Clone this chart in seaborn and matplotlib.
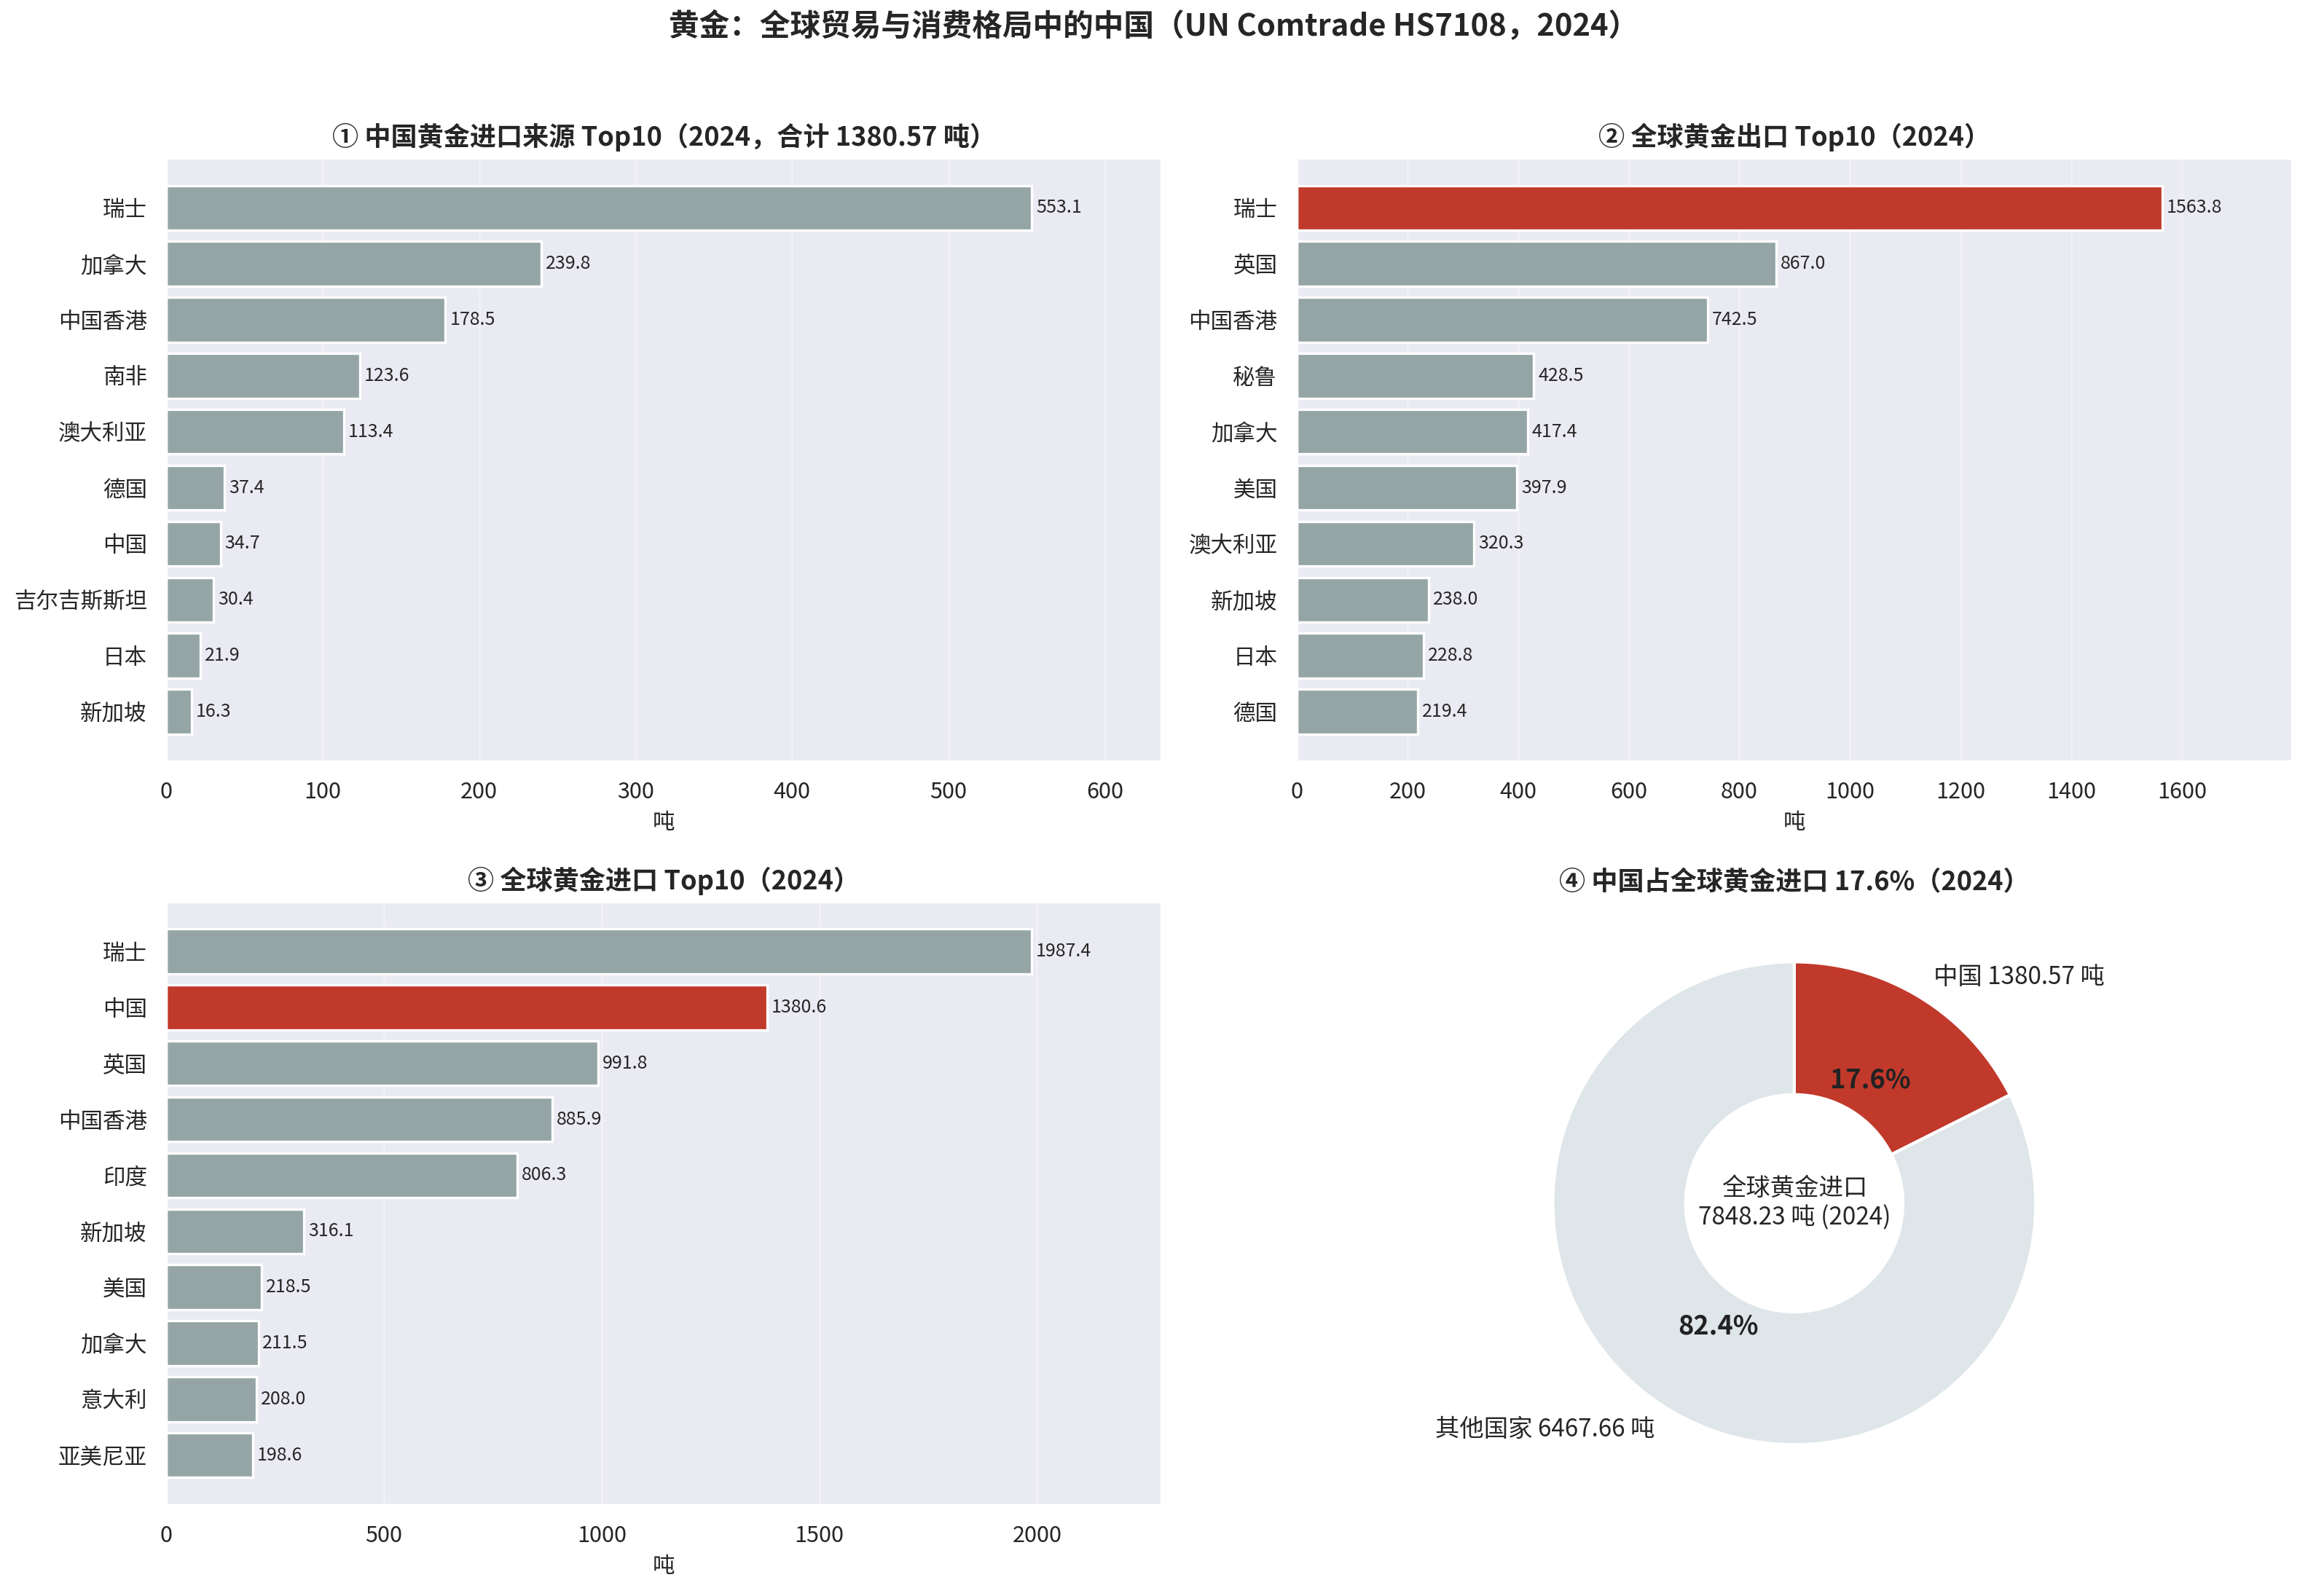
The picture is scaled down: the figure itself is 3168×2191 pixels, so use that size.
import matplotlib
matplotlib.use("Agg")
import matplotlib.pyplot as plt
import seaborn as sns
import pandas as pd

sns.set_theme(style="darkgrid")
plt.rcParams['font.family'] = ['Noto Sans CJK SC', 'DejaVu Sans']
plt.rcParams['axes.unicode_minus'] = False

GREY = '#95a5a6'
RED = '#c0392b'
LIGHT = '#dfe6e9'

# ① 中国黄金进口来源
cn_src_names = ["瑞士", "加拿大", "中国香港", "南非", "澳大利亚", "德国", "中国", "吉尔吉斯斯坦", "日本", "新加坡"]
cn_src_vals = [553.1, 239.8, 178.5, 123.6, 113.4, 37.4, 34.7, 30.4, 21.9, 16.3]
cn_total = 1380.57

# ② 全球黄金出口
exp_names = ["瑞士", "英国", "中国香港", "秘鲁", "加拿大", "美国", "澳大利亚", "新加坡", "日本", "德国"]
exp_vals = [1563.8, 867.0, 742.5, 428.5, 417.4, 397.9, 320.3, 238.0, 228.8, 219.4]
exp_highlight = "瑞士"

# ③ 全球黄金进口
imp_names = ["瑞士", "中国", "英国", "中国香港", "印度", "新加坡", "美国", "加拿大", "意大利", "亚美尼亚"]
imp_vals = [1987.4, 1380.6, 991.8, 885.9, 806.3, 316.1, 218.5, 211.5, 208.0, 198.6]
imp_highlight = "中国"

# ④ 份额
world_import = 7848.23
share_labels = ["中国", "其他国家"]
share_vals = [1380.57, 6467.66]


def bar_panel(ax, names, vals, title, highlight=None):
    df = pd.DataFrame({'name': names, 'val': vals})
    colors = [RED if n == highlight else GREY for n in names]
    sns.barplot(data=df, x='val', y='name', hue='name', palette=colors, saturation=1,
                legend=False, ax=ax, edgecolor='white', linewidth=1.2, width=0.8)
    vmax = max(vals)
    for i, v in enumerate(vals):
        ax.text(v + vmax * 0.005, i, f"{v:.1f}", va='center', ha='left', fontsize=9)
    ax.set_xlim(0, vmax * 1.15)
    # same padding as a plain barh with default margins
    ax.set_ylim(len(vals) - 1 + 0.89, -0.89)
    ax.grid(axis='x', alpha=0.3)
    ax.set_title(title, fontsize=13, fontweight='bold')
    ax.set_xlabel("吨", fontsize=11)
    ax.set_ylabel("")
    ax.tick_params(axis='both', labelsize=11)


fig, axes = plt.subplots(2, 2, figsize=(15.84, 10.955), dpi=200)

bar_panel(axes[0, 0], cn_src_names, cn_src_vals,
          f"① 中国黄金进口来源 Top10（2024，合计 {cn_total:.2f} 吨）")
bar_panel(axes[0, 1], exp_names, exp_vals, "② 全球黄金出口 Top10（2024）", exp_highlight)
bar_panel(axes[1, 0], imp_names, imp_vals, "③ 全球黄金进口 Top10（2024）", imp_highlight)

ax = axes[1, 1]
pct = share_vals[0] / world_import * 100
wedges, texts, autotexts = ax.pie(
    share_vals,
    labels=[f"{l} {v:.2f} 吨" for l, v in zip(share_labels, share_vals)],
    colors=[RED, LIGHT], startangle=90, counterclock=False,
    autopct='%1.1f%%', pctdistance=0.6,
    wedgeprops=dict(width=0.55, edgecolor='white', linewidth=1.5),
    textprops=dict(fontsize=12))
for t in autotexts:
    t.set_fontsize(13)
    t.set_fontweight('bold')
    t.set_color('#222222')
ax.text(0, 0, f"全球黄金进口\n{world_import:.2f} 吨 (2024)", ha='center', va='center', fontsize=12)
ax.set_title(f"④ 中国占全球黄金进口 {pct:.1f}%（2024）", fontsize=13, fontweight='bold')
ax.set_aspect('equal')

fig.suptitle("黄金：全球贸易与消费格局中的中国（UN Comtrade HS7108，2024）",
             fontsize=15, fontweight='bold', y=0.993)
fig.subplots_adjust(left=0.072, right=0.993, top=0.901, bottom=0.057, hspace=0.232, wspace=0.136)
fig.savefig("out.png", dpi=200)
